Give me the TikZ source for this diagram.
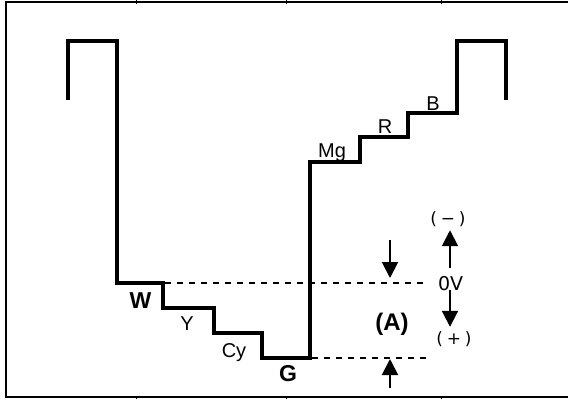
\documentclass[tikz,border=0pt]{standalone}
\usepackage{fontspec}
\setmainfont{Liberation Sans}
\newfontfamily\dvs{DejaVu Sans}
\usetikzlibrary{arrows.meta}
\begin{document}
\begin{tikzpicture}[x=1pt,y=-1pt,
  wave/.style={line width=4pt},
  lbl/.style={inner sep=0pt,anchor=base,font=\fontsize{20}{20}\selectfont},
  blbl/.style={inner sep=0pt,anchor=base,font=\fontsize{23}{23}\selectfont\bfseries},
  albl/.style={inner sep=0pt,anchor=base,font=\fontsize{24}{24}\selectfont\bfseries},
  vlbl/.style={inner sep=0pt,anchor=base,font=\dvs\fontsize{19}{19}\selectfont},
  plbl/.style={inner sep=0pt,anchor=base,font=\dvs\fontsize{17}{17}\selectfont},
  refline/.style={line width=1.5pt,dash pattern=on 6pt off 6pt},
  arr/.style={line width=2pt,-{Triangle[width=16pt,length=16pt]}},
  framel/.style={line width=2pt},
  tick/.style={line width=1pt}]
\useasboundingbox (0,0) rectangle (568,399);
% frame
\draw[framel] (580,1.5) -- (6,1.5) -- (6,396.5) -- (580,396.5);
\foreach \tx in {136,286,441}{
  \draw[tick] (\tx,0) -- (\tx,4);
  \draw[tick] (\tx,396) -- (\tx,399);
}
% waveform
\draw[wave] (68,100) -- (68,41) -- (117,41) -- (117,283) -- (163,283)
  -- (163,308) -- (214,308) -- (214,333) -- (262,333) -- (262,358)
  -- (310,358) -- (310,162) -- (360,162) -- (360,137) -- (408,137)
  -- (408,113) -- (457,113) -- (457,41) -- (506,41) -- (506,100);
% reference lines
\coordinate (u1) at (165,283);
\coordinate (u2) at (423,283);
\coordinate (l1) at (312,358);
\coordinate (l2) at (428,358);
\draw[refline] (u1) -- (u2);
\draw[refline] (l1) -- (l2);
% labels
\node[blbl] (w) at (140.5,308) {W};
\node[lbl] (y) at (187,330) {Y};
\node[lbl] (cy) at (234,357) {Cy};
\node[blbl] (g) at (288,381) {G};
\node[lbl] (mg) at (332,157) {Mg};
\node[lbl] (r) at (385,133) {R};
\node[lbl] (b) at (433,110) {B};
\node[albl] (a) at (392,330) {(A)};
\node[vlbl] (zv) at (450.7,290) {0V};
\node[plbl] (mn) at (448,224.5) {(\hspace{3.75pt}−\hspace{3.75pt})};
\node[plbl] (pl) at (454,344.5) {(\hspace{3.75pt}+\hspace{3.75pt})};
% arrows for (A)
\coordinate (d1) at (390,240);
\coordinate (d2) at (390,278);
\coordinate (e1) at (390,388);
\coordinate (e2) at (390,359);
\draw[arr] (d1) -- (d2);
\draw[arr] (e1) -- (e2);
% polarity arrows
\draw[arr,shorten <=8.1pt,shorten >=3.3pt] ([xshift=-0.7pt]zv.north) -- ([xshift=-0.7pt]zv.north |- mn.south);
\draw[arr,shorten >=4.6pt] ([xshift=-0.7pt]zv.south) -- ([xshift=-0.7pt]zv.south |- pl.north);
\end{tikzpicture}
\end{document}
